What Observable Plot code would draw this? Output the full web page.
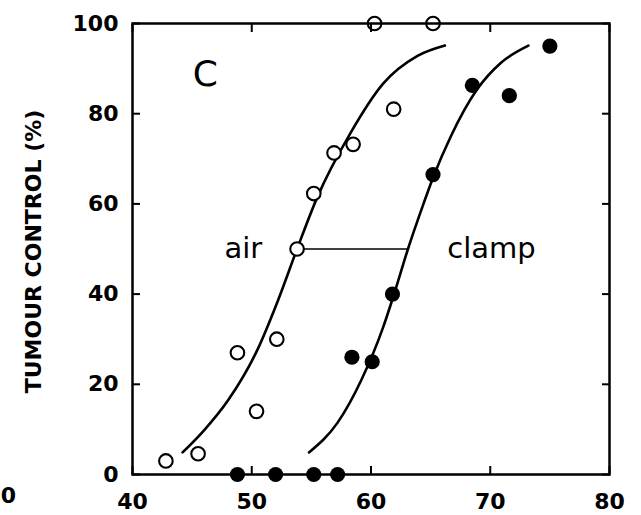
<!DOCTYPE html>
<html><head><meta charset="utf-8">
<script src="https://cdn.jsdelivr.net/npm/d3@7"></script>
<script src="https://cdn.jsdelivr.net/npm/@observablehq/plot@0.6"></script>
<style>
html,body{margin:0;padding:0;background:#fff;}
</style>
</head><body><div id="chart"></div>
<script>
// Observed points (dose Gy, tumour control %)
const airDose      = [42.8, 45.5, 48.8, 50.4, 52.1, 53.8, 55.2, 56.9, 58.5, 60.3, 61.9, 65.2];
const airControl   = [3, 4.6, 27, 14, 30, 50, 62.3, 71.3, 73.2, 100, 81, 100];
const clampDose    = [48.8, 52.0, 55.2, 57.2, 58.4, 60.1, 61.8, 65.2, 68.5, 71.6, 75.0];
const clampControl = [0, 0, 0, 0, 26, 25, 40, 66.5, 86.3, 84, 95];

// Fitted curves
const airFitDose      = [44.2, 46.0, 48.0, 50.5, 52.2, 53.8, 55.5, 58.3, 61.0, 63.9, 66.2];
const airFitControl   = [4.9, 9.8, 16.4, 27.8, 38.6, 50, 61.5, 75.8, 86.6, 92.8, 95.1];
const clampFitDose    = [54.8, 57.2, 59.2, 61.0, 61.9, 63.1, 64.4, 65.2, 66.7, 68.9, 70.9, 73.2];
const clampFitControl = [4.9, 11.5, 21.0, 32.5, 39.7, 50, 60.0, 65.8, 75.0, 85.4, 91.3, 95.1];

// ED50 marker between curves at 50 %
const ed50Dose = [53.8, 63.1];
const ed50Level = 50;

const xTicks = [40, 50, 60, 70, 80];
const yTicks = [0, 20, 40, 60, 80, 100];
const yTitle = "TUMOUR CONTROL (%)";
const panelLabel = "C";
const panelLabelPos = [46.1, 88.8];
const seriesNames = ["air", "clamp"];
const seriesLabelDose = [49.3, 70.1];
const seriesLabelControl = [50, 50];
const neighbourTick = "0";

const air = airDose.map((d, i) => ({x: d, y: airControl[i]}));
const clamp = clampDose.map((d, i) => ({x: d, y: clampControl[i]}));
const airFit = airFitDose.map((d, i) => ({x: d, y: airFitControl[i]}));
const clampFit = clampFitDose.map((d, i) => ({x: d, y: clampFitControl[i]}));
const seriesLabels = seriesNames.map((t, i) => ({t, x: seriesLabelDose[i], y: seriesLabelControl[i]}));

const F = "DejaVu Sans";
const chart = Plot.plot({
  width: 641, height: 515,
  marginLeft: 132, marginRight: 32, marginTop: 23, marginBottom: 41,
  style: {fontFamily: F, background: "#fff", overflow: "visible"},
  x: {domain: [40, 80]},
  y: {domain: [0, 100]},
  marks: [
    Plot.line(airFit, {x: "x", y: "y", curve: "monotone-x", stroke: "#000", strokeWidth: 2.6}),
    Plot.line(clampFit, {x: "x", y: "y", curve: "monotone-x", stroke: "#000", strokeWidth: 2.6}),
    Plot.ruleY([{y: ed50Level, x1: ed50Dose[0], x2: ed50Dose[1]}], {y: "y", x1: "x1", x2: "x2", stroke: "#000", strokeWidth: 1.3}),
    Plot.dot(air, {x: "x", y: "y", r: 6.8, fill: "#fff", stroke: "#000", strokeWidth: 2.1}),
    Plot.dot(clamp, {x: "x", y: "y", r: 7.6, fill: "#000", stroke: "none"}),
    Plot.text(seriesLabels, {x: "x", y: "y", text: "t", fontSize: 29, fontFamily: F, fill: "#000"}),
    Plot.text([panelLabel], {x: () => panelLabelPos[0], y: () => panelLabelPos[1], fontSize: 36, fontFamily: F, fontWeight: "normal", fill: "#000"}),
    Plot.frame({stroke: "#000", strokeWidth: 2.5}),
    Plot.axisX({anchor: "bottom", ticks: xTicks, tickSize: -8, tickPadding: 27, strokeWidth: 2, fontSize: 22, fontWeight: "bold", fontFamily: F, label: null}),
    Plot.axisX({anchor: "top", ticks: xTicks, tickSize: -8, strokeWidth: 2, tickFormat: () => "", label: null}),
    Plot.axisY({anchor: "left", ticks: yTicks, tickSize: -8, tickPadding: 22, strokeWidth: 2, fontSize: 22, fontWeight: "bold", fontFamily: F, label: null}),
    Plot.axisY({anchor: "right", ticks: yTicks, tickSize: -8, strokeWidth: 2, tickFormat: () => "", label: null}),
    Plot.text([yTitle], {frameAnchor: "left", textAnchor: "middle", lineAnchor: "middle", dx: -99, dy: 2.5, rotate: -90, fontSize: 22, fontWeight: "bold", fontFamily: F, fill: "#000"}),
    Plot.text([neighbourTick], {frameAnchor: "bottom-left", textAnchor: "middle", dx: -124, dy: 28, fontSize: 22, fontWeight: "bold", fontFamily: F, fill: "#000"})
  ]
});
document.getElementById("chart").appendChild(chart);
</script>
</body></html>
